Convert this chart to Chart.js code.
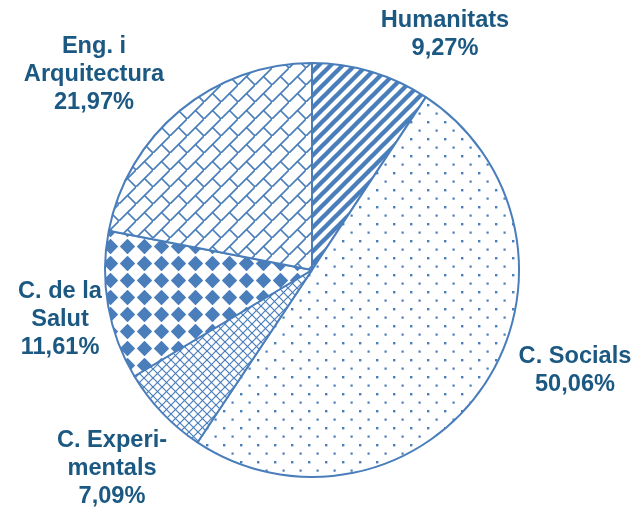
<!DOCTYPE html>
<html>
<head>
<meta charset="utf-8">
<script src="https://cdn.jsdelivr.net/npm/chart.js@4.4.1/dist/chart.umd.min.js"></script>
<style>
  html, body { margin: 0; padding: 0; background: #ffffff; }
  #wrap { width: 636px; height: 512px; position: relative; }
</style>
</head>
<body>
<div id="wrap"><canvas id="c" width="636" height="512"></canvas></div>
<script>
// ---- data ----
const categories = [
  ["Humanitats"],
  ["C. Socials"],
  ["C. Experi-", "mentals"],
  ["C. de la", "Salut"],
  ["Eng. i", "Arquitectura"]
];
const shares = [9.27, 50.06, 7.09, 11.61, 21.97];

// ---- styling / layout (not data) ----
const BLUE = '#4a7ebb';
const TEXT = '#1b5882';
const labelAnchors = [ // [centerX, first baseline]
  [445, 27],
  [575, 363],
  [112, 447],
  [60, 298],
  [94, 53]
];
const lineStep = 28;

function makeTile(w, h, draw) {
  const t = document.createElement('canvas');
  t.width = w; t.height = h;
  const g = t.getContext('2d');
  g.fillStyle = '#ffffff';
  g.fillRect(0, 0, w, h);
  draw(g, w, h);
  return t;
}
const ctx0 = document.getElementById('c').getContext('2d');

// Humanitats: wide upward diagonal stripes
const stripes = ctx0.createPattern(makeTile(12, 12, (g) => {
  g.strokeStyle = BLUE; g.lineWidth = 4.4;
  for (const k of [-12, 0, 12, 24]) {
    g.beginPath(); g.moveTo(k - 12, 24); g.lineTo(k + 24, -12); g.stroke();
  }
}), 'repeat');
// C. Socials: sparse dots
const dots = ctx0.createPattern(makeTile(17, 17, (g) => {
  g.fillStyle = BLUE;
  g.fillRect(2, 2, 2.4, 2.4);
  g.fillRect(10.5, 10.5, 2.2, 2.2);
}), 'repeat');
// C. Experimentals: fine diagonal cross
const cross = ctx0.createPattern(makeTile(9, 9, (g) => {
  g.strokeStyle = BLUE; g.lineWidth = 1.2;
  g.beginPath(); g.moveTo(0, 0); g.lineTo(9, 9); g.stroke();
  g.beginPath(); g.moveTo(9, 0); g.lineTo(0, 9); g.stroke();
}), 'repeat');
// C. de la Salut: solid diamonds
const diamonds = ctx0.createPattern(makeTile(17, 17, (g) => {
  g.fillStyle = BLUE; g.strokeStyle = BLUE;
  g.lineJoin = 'round'; g.lineWidth = 1.5;
  g.beginPath();
  g.moveTo(8.5, 1.8); g.lineTo(15.2, 8.5); g.lineTo(8.5, 15.2); g.lineTo(1.8, 8.5);
  g.closePath(); g.fill(); g.stroke();
}), 'repeat');
// Eng. i Arquitectura: diagonal brick
const brick = ctx0.createPattern(makeTile(17, 17, (g) => {
  g.strokeStyle = BLUE; g.lineWidth = 1.7;
  for (const k of [0, 17, 34]) {
    g.beginPath(); g.moveTo(k, 0); g.lineTo(0, k); g.stroke();
  }
  g.beginPath(); g.moveTo(8.5, 8.5); g.lineTo(17, 17); g.stroke();
  g.beginPath(); g.moveTo(-8.5, -8.5); g.lineTo(0, 0); g.stroke();
}), 'repeat');

const fills = [stripes, dots, cross, diamonds, brick];

const labelPlugin = {
  id: 'sliceLabels',
  afterDraw(chart) {
    const c = chart.ctx;
    c.save();
    c.fillStyle = TEXT;
    c.font = 'bold 23.6px "Liberation Sans", Arial, sans-serif';
    c.textAlign = 'center';
    c.textBaseline = 'alphabetic';
    chart.data.labels.forEach((lines, i) => {
      const v = chart.data.datasets[0].data[i];
      const all = lines.concat([v.toFixed(2).replace('.', ',') + '%']);
      const [x, y] = labelAnchors[i];
      all.forEach((s, j) => c.fillText(s, x, y + j * lineStep));
    });
    c.restore();
  }
};

new Chart(document.getElementById('c'), {
  type: 'pie',
  data: {
    labels: categories,
    datasets: [{
      data: shares,
      backgroundColor: fills,
      borderColor: BLUE,
      borderWidth: 2
    }]
  },
  options: {
    responsive: false,
    animation: false,
    layout: { padding: { top: 62, bottom: 34, left: 104, right: 116 } },
    plugins: {
      legend: { display: false },
      tooltip: { enabled: false }
    }
  },
  plugins: [labelPlugin]
});
</script>
</body>
</html>
